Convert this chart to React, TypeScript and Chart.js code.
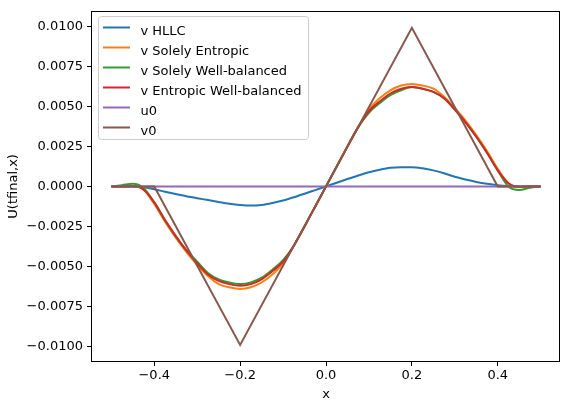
import React, { useEffect, useRef } from "react";
import { Chart, registerables } from "chart.js";

Chart.register(...registerables);

// ---------- data ----------
const xGrid = [
  -0.5, -0.475, -0.45, -0.425, -0.4, -0.375, -0.35, -0.325, -0.3, -0.275,
  -0.25, -0.225, -0.2, -0.175, -0.15, -0.125, -0.1, -0.075, -0.05, -0.025,
  0,
  0.025, 0.05, 0.075, 0.1, 0.125, 0.15, 0.175, 0.2, 0.225, 0.25,
  0.275, 0.3, 0.325, 0.35, 0.375, 0.4, 0.425, 0.45, 0.475, 0.5,
];

const vHLLC = [
  0, 0, 0, -0.00005, -0.00018, -0.00033, -0.00048, -0.00062, -0.00074, -0.00085,
  -0.00097, -0.00108, -0.00116, -0.0012, -0.00116, -0.00104, -0.00088, -0.00068, -0.00046, -0.00023,
  0,
  0.00023, 0.00046, 0.00068, 0.00088, 0.00104, 0.00116, 0.0012, 0.0012, 0.00113, 0.001,
  0.00082, 0.0006, 0.00043, 0.00028, 0.00016, 0.00007, 0.00002, 0, 0, 0,
];

const vEntropic = [
  0, 0, 0.00002, -0.0002, -0.0011, -0.0022, -0.0032, -0.0041, -0.0049, -0.0056,
  -0.0061, -0.0063, -0.0064, -0.0063, -0.006, -0.0055, -0.0048, -0.0037, -0.0025, -0.00125,
  0,
  0.00125, 0.0025, 0.0037, 0.0048, 0.0055, 0.006, 0.0063, 0.0064, 0.0063, 0.0061,
  0.0056, 0.0049, 0.0041, 0.0032, 0.0022, 0.0011, 0.0002, -0.00002, 0, 0,
];

const vWellBalanced = [
  0, 0.00008, 0.00016, -0.0001, -0.001, -0.0021, -0.0031, -0.004, -0.0047, -0.0054,
  -0.0058, -0.006, -0.0061, -0.006, -0.0057, -0.0052, -0.0046, -0.0037, -0.0025, -0.00125,
  0,
  0.00125, 0.0025, 0.0037, 0.0046, 0.0052, 0.0057, 0.006, 0.0062, 0.0061, 0.0059,
  0.0055, 0.0048, 0.004, 0.0031, 0.0021, 0.001, 0.0, -0.00022, -0.00008, 0,
];

const vEntropicWB = [
  0, 0, 0.00003, -0.0002, -0.001, -0.0021, -0.0031, -0.004, -0.0048, -0.0055,
  -0.0059, -0.0061, -0.0062, -0.0061, -0.0058, -0.0053, -0.0047, -0.0037, -0.0025, -0.00125,
  0,
  0.00125, 0.0025, 0.0037, 0.0047, 0.0053, 0.0058, 0.0061, 0.0062, 0.0061, 0.0059,
  0.0055, 0.0048, 0.004, 0.0031, 0.0021, 0.001, 0.0002, -0.00003, 0, 0,
];

const u0X = [-0.5, 0.5];
const u0Y = [0, 0];

const v0X = [-0.5, -0.4, -0.2, 0.2, 0.4, 0.5];
const v0Y = [0, 0, -0.0099, 0.0099, 0, 0];

const seriesLabels = [
  "v HLLC",
  "v Solely Entropic",
  "v Solely Well-balanced",
  "v Entropic Well-balanced",
  "u0",
  "v0",
];
const seriesColors = ["#1f77b4", "#ff7f0e", "#2ca02c", "#d62728", "#9467bd", "#8c564b"];

const xTickValues = [-0.4, -0.2, 0.0, 0.2, 0.4];
const yTickValues = [-0.01, -0.0075, -0.005, -0.0025, 0.0, 0.0025, 0.005, 0.0075, 0.01];

const xTitle = "x";
const yTitle = "U(tfinal,x)";

// ---------- helpers ----------
const FONT = "'DejaVu Sans', 'Liberation Sans', sans-serif";
const pts = (xs: number[], ys: number[]) => xs.map((x, i) => ({ x, y: ys[i] }));
const fmt = (v: number, d: number) => {
  if (Math.abs(v) < 1e-12) return (0).toFixed(d);
  const s = v.toFixed(d);
  return s.replace("-", "\u2212");
};

const framePlugin = {
  id: "mplFrame",
  afterDatasetsDraw(chart: any) {
    const { ctx, chartArea } = chart;
    ctx.save();
    ctx.strokeStyle = "#000";
    ctx.lineWidth = 1;
    const l = Math.round(chartArea.left) - 0.5;
    const t = Math.round(chartArea.top) - 0.5;
    const r = Math.round(chartArea.right) - 0.5;
    const b = Math.round(chartArea.bottom) + 0.5;
    ctx.strokeRect(l, t, r - l, b - t);
    ctx.restore();
  },
};

const legendPlugin = {
  id: "mplLegend",
  afterDraw(chart: any) {
    const ctx = chart.ctx;
    ctx.save();
    const bx = 98.5, by = 16.5, bw = 210, bh = 123;
    ctx.beginPath();
    if ((ctx as any).roundRect) (ctx as any).roundRect(bx, by, bw, bh, 3);
    else ctx.rect(bx, by, bw, bh);
    ctx.fillStyle = "rgba(255,255,255,0.8)";
    ctx.fill();
    ctx.strokeStyle = "#cccccc";
    ctx.lineWidth = 1;
    ctx.stroke();
    ctx.font = `13px ${FONT}`;
    ctx.textBaseline = "alphabetic";
    ctx.textAlign = "left";
    seriesLabels.forEach((lab, i) => {
      const y = 27.5 + i * 20;
      ctx.strokeStyle = seriesColors[i];
      ctx.lineWidth = 2;
      ctx.beginPath();
      ctx.moveTo(103, y);
      ctx.lineTo(130, y);
      ctx.stroke();
      ctx.fillStyle = "#000";
      ctx.fillText(lab, 140.5, y + 7);
    });
    ctx.restore();
  },
};

export default function App() {
  const canvasRef = useRef<HTMLCanvasElement | null>(null);

  useEffect(() => {
    if (!canvasRef.current) return;
    const seriesData = [
      pts(xGrid, vHLLC),
      pts(xGrid, vEntropic),
      pts(xGrid, vWellBalanced),
      pts(xGrid, vEntropicWB),
      pts(u0X, u0Y),
      pts(v0X, v0Y),
    ];
    const datasets = seriesData.map((d, i) => ({
      label: seriesLabels[i],
      data: d,
      borderColor: seriesColors[i],
      backgroundColor: seriesColors[i],
      borderWidth: 2,
      pointRadius: 0,
      fill: false,
      tension: i >= 4 ? 0 : 0.4,
      cubicInterpolationMode: i >= 4 ? "default" : "monotone",
      order: 5 - i,
    }));

    const chart = new Chart(canvasRef.current, {
      type: "line",
      data: { datasets: datasets as any },
      plugins: [framePlugin, legendPlugin],
      options: {
        animation: false,
        responsive: false,
        devicePixelRatio: 1,
        layout: { padding: { top: 10, right: 2, left: 0, bottom: 0 } },
        plugins: { legend: { display: false }, tooltip: { enabled: false } },
        scales: {
          x: {
            type: "linear",
            min: -0.545,
            max: 0.545,
            afterBuildTicks: (s: any) => {
              s.ticks = xTickValues.map((v) => ({ value: v }));
            },
            afterFit: (s: any) => {
              s.height = 42;
            },
            grid: { drawOnChartArea: false, drawTicks: true, tickLength: 5, color: "#000", lineWidth: 1 },
            border: { display: false },
            ticks: {
              padding: 2,
              color: "#000",
              font: { family: FONT, size: 13 },
              maxRotation: 0,
              autoSkip: false,
              callback: (v: any) => fmt(Number(v), 1),
            },
            title: {
              display: true,
              text: xTitle,
              color: "#000",
              font: { family: FONT, size: 13 },
              padding: { top: 0, bottom: 1 },
            },
          },
          y: {
            type: "linear",
            min: -0.0109,
            max: 0.0109,
            afterBuildTicks: (s: any) => {
              s.ticks = yTickValues.map((v) => ({ value: v }));
            },
            afterFit: (s: any) => {
              s.width = 92;
            },
            grid: { drawOnChartArea: false, drawTicks: true, tickLength: 5, color: "#000", lineWidth: 1 },
            border: { display: false },
            ticks: {
              padding: 4,
              color: "#000",
              font: { family: FONT, size: 13 },
              autoSkip: false,
              callback: (v: any) => fmt(Number(v), 4),
            },
            title: {
              display: true,
              text: yTitle,
              color: "#000",
              font: { family: FONT, size: 13 },
              padding: { top: 6, bottom: 0 },
            },
          },
        },
      } as any,
    });
    return () => chart.destroy();
  }, []);

  return (
    <div style={{ position: "absolute", left: 0, top: 0, width: 562, height: 403, background: "#fff" }}>
      <canvas ref={canvasRef} width={562} height={403} style={{ width: 562, height: 403, display: "block" }} />
    </div>
  );
}
